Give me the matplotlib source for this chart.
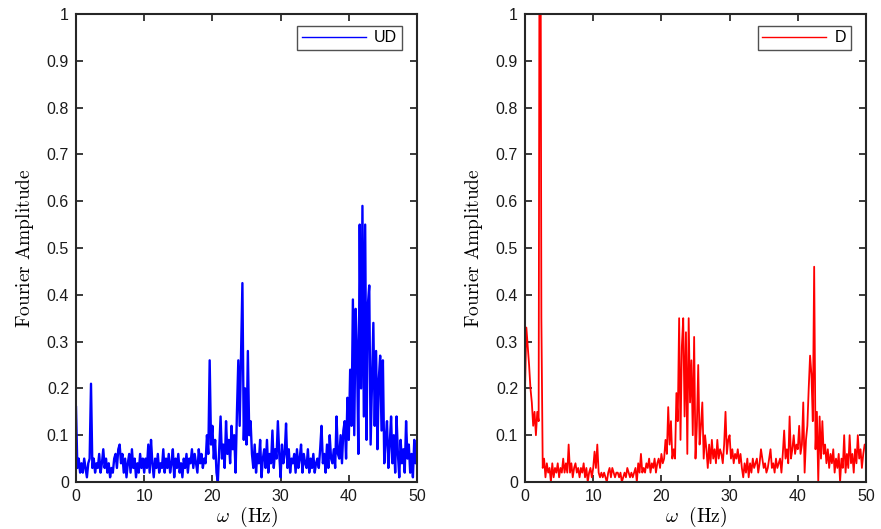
import numpy as np
import matplotlib
matplotlib.use("Agg")
import matplotlib.pyplot as plt
from matplotlib.ticker import FuncFormatter

# ---- data (frequency axis 0..50 Hz, step 0.2 Hz) ----
freq = np.round(np.arange(0, 50.0001, 0.2), 2)

ud_amp = [
    0.16, 0.03, 0.05, 0.02, 0.04, 0.02, 0.05, 0.03, 0.01, 0.04,
    0.05, 0.21, 0.03, 0.05, 0.02, 0.04, 0.03, 0.06, 0.02, 0.04,
    0.07, 0.03, 0.05, 0.02, 0.04, 0.01, 0.03, 0.02, 0.05, 0.06,
    0.03, 0.07, 0.08, 0.04, 0.06, 0.02, 0.05, 0.01, 0.04, 0.06,
    0.02, 0.07, 0.03, 0.05, 0.01, 0.04, 0.02, 0.06, 0.03, 0.05,
    0.02, 0.05, 0.03, 0.08, 0.02, 0.09, 0.04, 0.01, 0.05, 0.03,
    0.06, 0.02, 0.04, 0.03, 0.07, 0.02, 0.05, 0.03, 0.06, 0.02,
    0.04, 0.07, 0.01, 0.05, 0.03, 0.06, 0.02, 0.04, 0.01, 0.05,
    0.03, 0.06, 0.02, 0.05, 0.04, 0.07, 0.03, 0.06, 0.04, 0.02,
    0.07, 0.04, 0.06, 0.03, 0.05, 0.04, 0.10, 0.06, 0.26, 0.08,
    0.12, 0.05, 0.09, 0.02, 0.00, 0.07, 0.14, 0.05, 0.08, 0.03,
    0.13, 0.06, 0.09, 0.04, 0.12, 0.07, 0.10, 0.02, 0.15, 0.26,
    0.12, 0.27, 0.425, 0.09, 0.20, 0.08, 0.28, 0.10, 0.13, 0.06,
    0.03, 0.08, 0.02, 0.06, 0.04, 0.09, 0.01, 0.05, 0.07, 0.03,
    0.09, 0.02, 0.06, 0.04, 0.11, 0.03, 0.07, 0.05, 0.13, 0.06,
    0.01, 0.08, 0.04, 0.06, 0.125, 0.03, 0.07, 0.02, 0.05, 0.04,
    0.06, 0.02, 0.07, 0.03, 0.05, 0.08, 0.02, 0.06, 0.04, 0.03,
    0.07, 0.02, 0.05, 0.03, 0.06, 0.02, 0.04, 0.05, 0.03, 0.07,
    0.12, 0.04, 0.06, 0.02, 0.08, 0.03, 0.10, 0.05, 0.04, 0.07,
    0.03, 0.14, 0.06, 0.05, 0.10, 0.04, 0.11, 0.13, 0.05, 0.18,
    0.09, 0.24, 0.12, 0.39, 0.10, 0.37, 0.28, 0.06, 0.55, 0.20,
    0.59, 0.14, 0.55, 0.09, 0.38, 0.42, 0.08, 0.21, 0.34, 0.12,
    0.28, 0.07, 0.22, 0.27, 0.11, 0.26, 0.04, 0.09, 0.13, 0.03,
    0.08, 0.14, 0.04, 0.10, 0.02, 0.14, 0.06, 0.01, 0.09, 0.04,
    0.07, 0.02, 0.13, 0.05, 0.08, 0.02, 0.06, 0.01, 0.09, 0.04,
    0.08,
]

d_amp = [
    0.20, 0.33, 0.29, 0.25, 0.20, 0.17, 0.12, 0.15, 0.10, 0.15,
    0.13, 1.80, 0.35, 0.03, 0.05, 0.01, 0.04, 0.02, 0.03, 0.00,
    0.04, 0.01, 0.03, 0.02, 0.04, 0.01, 0.03, 0.02, 0.05, 0.02,
    0.04, 0.02, 0.08, 0.02, 0.04, 0.01, 0.03, 0.04, 0.02, 0.03,
    0.01, 0.03, 0.02, 0.04, 0.01, 0.03, 0.00, 0.02, 0.03, 0.01,
    0.03, 0.065, 0.03, 0.08, 0.02, 0.01, 0.02, 0.01, 0.02, 0.01,
    0.00, 0.02, 0.03, 0.01, 0.03, 0.02, 0.01, 0.02, 0.02, 0.01,
    0.02, 0.00, 0.01, 0.02, 0.01, 0.03, 0.02, 0.01, 0.02, 0.01,
    0.02, 0.03, 0.00, 0.04, 0.02, 0.06, 0.02, 0.03, 0.02, 0.04,
    0.03, 0.05, 0.02, 0.04, 0.03, 0.05, 0.02, 0.04, 0.05, 0.03,
    0.06, 0.04, 0.05, 0.09, 0.06, 0.16, 0.08, 0.13, 0.05, 0.07,
    0.05, 0.19, 0.13, 0.35, 0.09, 0.29, 0.35, 0.14, 0.32, 0.06,
    0.35, 0.17, 0.26, 0.10, 0.31, 0.05, 0.12, 0.25, 0.08, 0.12,
    0.17, 0.05, 0.10, 0.07, 0.03, 0.08, 0.04, 0.09, 0.05, 0.07,
    0.04, 0.09, 0.05, 0.07, 0.06, 0.04, 0.08, 0.15, 0.06, 0.09,
    0.10, 0.05, 0.07, 0.04, 0.06, 0.05, 0.07, 0.04, 0.06, 0.03,
    0.01, 0.04, 0.02, 0.05, 0.01, 0.04, 0.02, 0.05, 0.03, 0.04,
    0.05, 0.02, 0.04, 0.07, 0.05, 0.03, 0.04, 0.02, 0.03, 0.05,
    0.07, 0.03, 0.04, 0.02, 0.05, 0.03, 0.04, 0.05, 0.02, 0.06,
    0.11, 0.05, 0.07, 0.04, 0.14, 0.05, 0.07, 0.10, 0.06, 0.08,
    0.07, 0.12, 0.06, 0.08, 0.17, 0.02, 0.09, 0.12, 0.20, 0.27,
    0.23, 0.13, 0.46, 0.07, 0.15, 0.00, 0.14, 0.05, 0.13, 0.06,
    0.08, 0.04, 0.07, 0.03, 0.06, 0.04, 0.07, 0.02, 0.05, 0.03,
    0.06, 0.00, 0.05, 0.03, 0.10, 0.02, 0.06, 0.03, 0.10, 0.04,
    0.06, 0.02, 0.07, 0.04, 0.10, 0.05, 0.07, 0.03, 0.06, 0.08,
    0.08,
]

series_labels = ["UD", "D"]
series_colors = ["#0000ff", "#ff0000"]
series_widths = [1.7, 1.3]
x_ticks = [0, 10, 20, 30, 40, 50]
y_ticks = [0, 0.1, 0.2, 0.3, 0.4, 0.5, 0.6, 0.7, 0.8, 0.9, 1.0]

plt.rcParams["mathtext.fontset"] = "cm"
plt.rcParams["font.family"] = ["Liberation Sans", "DejaVu Sans"]

fig = plt.figure(figsize=(8.81, 5.29), dpi=100)
W, H = 881, 529
ax_specs = [(76, 14, 341, 468), (525, 14, 341, 468)]

for (left, top, w, h), amp, lab, col, lw in zip(ax_specs, [ud_amp, d_amp],
                                                series_labels, series_colors,
                                                series_widths):
    ax = fig.add_axes([left / W, 1 - (top + h) / H, w / W, h / H])
    ax.plot(freq, amp, color=col, lw=lw, label=lab)
    ax.set_xlim(0, 50)
    ax.set_ylim(0, 1)
    ax.set_xticks(x_ticks)
    ax.set_yticks(y_ticks)
    ax.yaxis.set_major_formatter(FuncFormatter(lambda v, p: f"{v:g}"))
    ax.tick_params(direction="in", length=5, width=1.2, top=True, right=True,
                   labelsize=11.5, colors="#1a1a1a", pad=5)
    for s in ax.spines.values():
        s.set_linewidth(1.5)
        s.set_color("#262626")
    ax.set_xlabel(r"$\omega\ \ \mathrm{(Hz)}$", fontsize=14, labelpad=1)
    ax.set_ylabel(r"$\mathrm{Fourier\ Amplitude}$", fontsize=14, labelpad=8)
    leg = ax.legend(loc="upper right", fontsize=11.5, frameon=True, fancybox=False,
                    borderpad=0.3, handlelength=4.0, handletextpad=0.5,
                    bbox_to_anchor=(0.955, 0.975), borderaxespad=0.0)
    leg.get_frame().set_edgecolor("#262626")
    leg.get_frame().set_linewidth(1.0)
    for lh in leg.get_lines():
        lh.set_linewidth(1.0)

fig.savefig("out.png", dpi=100)
